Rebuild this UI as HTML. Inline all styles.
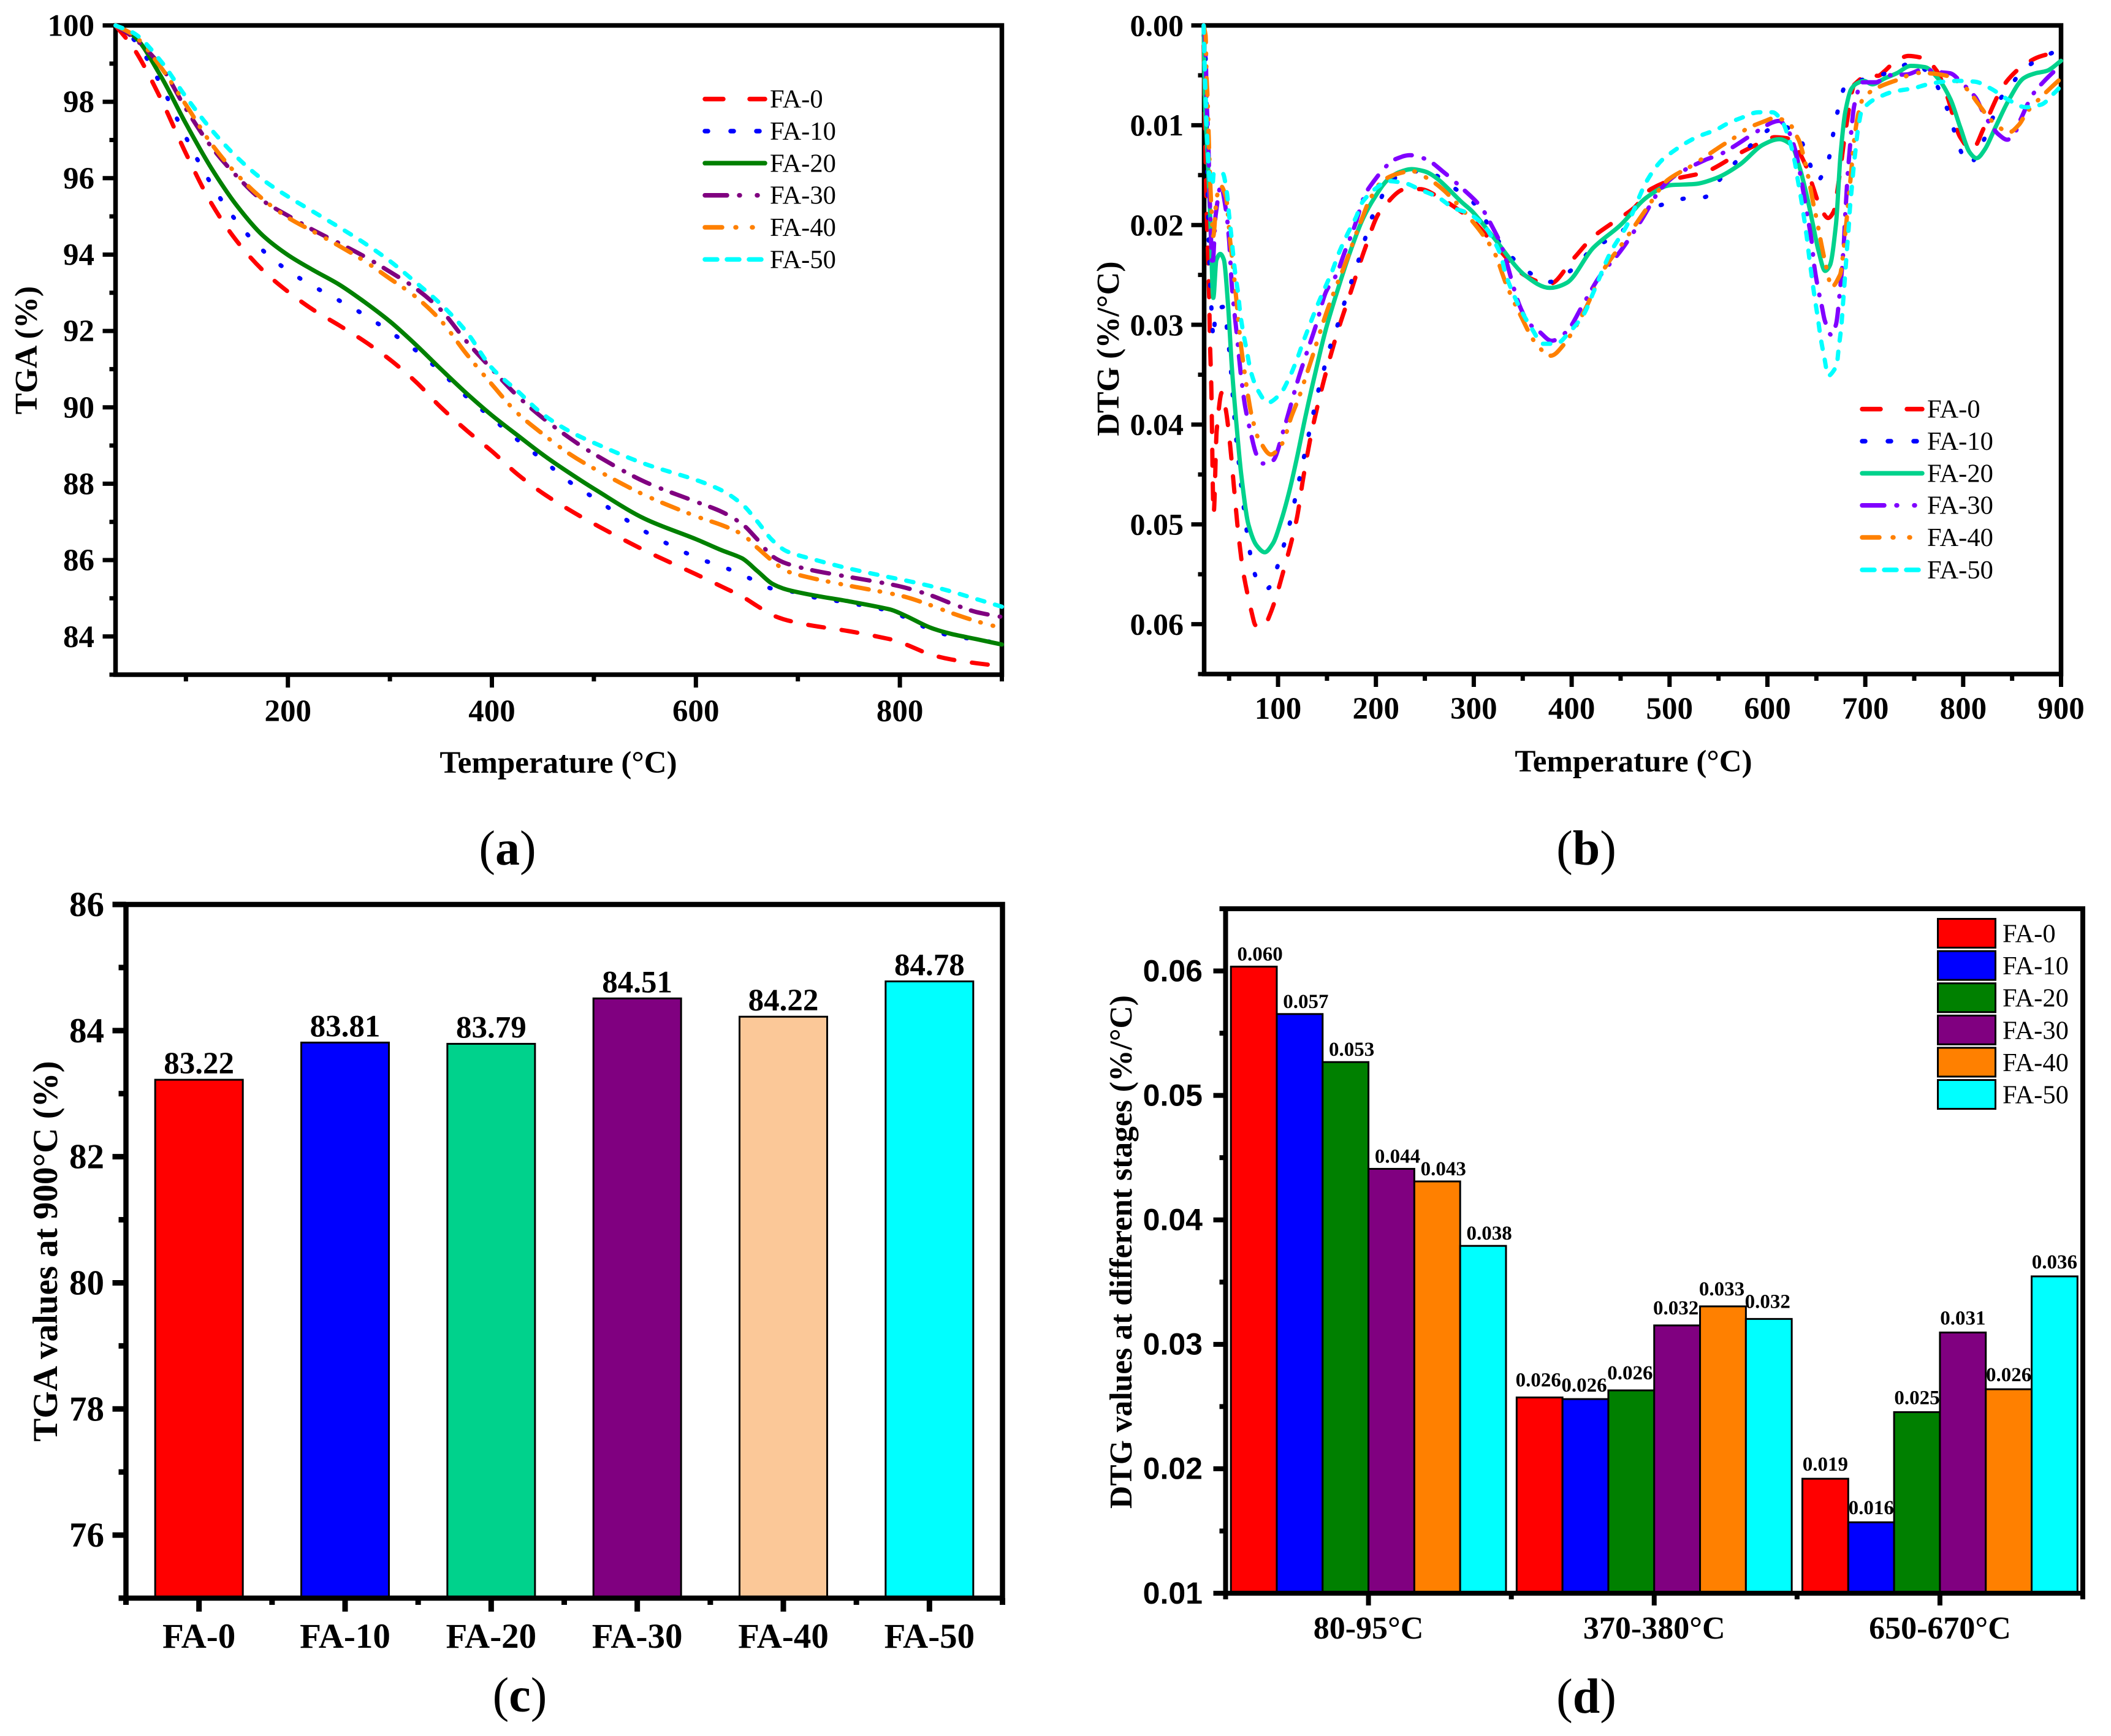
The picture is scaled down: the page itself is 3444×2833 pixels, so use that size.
<!DOCTYPE html>
<html lang="en">
<head>
<meta charset="utf-8">
<title>TGA and DTG results for FA series</title>
<style>
html,body{margin:0;padding:0;background:#fff;}
svg{display:block;}
text{font-family:"Liberation Serif","Noto Serif CJK SC",serif;fill:#000;}
</style>
</head>
<body>
<svg id="fig" xmlns="http://www.w3.org/2000/svg" width="3444" height="2833" viewBox="0 0 3444 2833"></svg>
<script>
// ---------- shared series labels ----------
const seriesNames = ['FA-0','FA-10','FA-20','FA-30','FA-40','FA-50'];

// ---------- panel (a) TGA: temperature (°C) and mass (%) ----------
const tgaTemps = [31,50,75,100,125,150,175,200,225,250,275,300,325,350,375,400,425,450,475,500,550,600,625,645,660,675,690,715,750,790,805,830,850,875,900];
const tgaFa0 = [100,99.35,98.1,96.65,95.34,94.35,93.6,93.03,92.55,92.15,91.73,91.25,90.68,90.0,89.4,88.85,88.25,87.75,87.33,86.95,86.25,85.63,85.31,85.05,84.8,84.56,84.42,84.28,84.14,83.93,83.8,83.53,83.4,83.3,83.22];
const tgaFa10 = [100,99.6,98.47,97.07,95.84,94.86,94.12,93.58,93.17,92.8,92.42,91.98,91.5,90.93,90.28,89.72,89.15,88.62,88.07,87.63,86.75,86.07,85.84,85.62,85.43,85.25,85.2,85.03,84.88,84.67,84.5,84.18,84.02,83.92,83.81];
const tgaFa20 = [100,99.7,98.69,97.43,96.26,95.28,94.51,93.99,93.59,93.22,92.76,92.25,91.65,91.0,90.37,89.79,89.27,88.76,88.3,87.87,87.08,86.55,86.26,86.05,85.72,85.38,85.22,85.08,84.92,84.71,84.55,84.23,84.07,83.93,83.79];
const tgaFa30 = [100,99.65,98.95,97.82,96.82,96.05,95.42,95.02,94.64,94.3,93.95,93.55,93.12,92.55,91.73,91.0,90.3,89.72,89.22,88.78,88.05,87.53,87.27,86.95,86.55,86.1,85.9,85.73,85.56,85.37,85.28,85.08,84.87,84.64,84.51];
const tgaFa40 = [100,99.72,98.92,97.92,96.9,96.1,95.46,94.97,94.6,94.23,93.83,93.37,92.9,92.27,91.4,90.6,89.85,89.3,88.8,88.4,87.7,87.15,86.92,86.68,86.33,85.98,85.7,85.52,85.33,85.13,85.04,84.82,84.62,84.4,84.22];
const tgaFa50 = [100,99.78,99.08,98.13,97.27,96.55,95.97,95.52,95.12,94.72,94.3,93.83,93.28,92.7,91.98,91.03,90.43,89.82,89.39,89.07,88.52,88.1,87.83,87.47,87.02,86.52,86.22,86.02,85.78,85.55,85.47,85.32,85.18,84.98,84.78];
const tgaXMajor = [200,400,600,800];
const tgaXMinor = [100,300,500,700,900];
const tgaYMajor = [84,86,88,90,92,94,96,98,100];
const tgaYMinor = [83,85,87,89,91,93,95,97,99];

// ---------- panel (b) DTG: [temperature °C, rate in 0.001 %/°C] ----------
const dtgFa0 = [[24,2],[26,13.3],[27,18.5],[28.4,22.8],[29.7,27.6],[30.5,31.9],[31.8,36.2],[34.2,48.9],[37.4,40.5],[42.6,36.8],[46.8,38.6],[51,42],[55,46.3],[59.3,50.8],[65,55.1],[74,59.2],[77,60.1],[84,60.3],[92.7,58.8],[108,53.8],[119,49.5],[126,45.2],[134.5,40.7],[146.5,35.7],[160.5,30.8],[175,26.5],[188.7,22.4],[204,18.7],[230.5,16.4],[245,16.4],[264,17.2],[297,19.4],[319,21.7],[353,25.1],[377.5,25.9],[401.5,23.4],[422,21.2],[443,19.7],[463.5,18.3],[481,16.4],[505,15.4],[536,14.7],[571.7,12.8],[594.4,11.7],[607.6,11.2],[619.6,11.3],[628,12],[640,14.2],[646,16],[654,18.2],[662,19.3],[667.5,18.7],[672.3,16],[680.7,10],[689,5.9],[703.5,5],[713,5.05],[720,4.55],[727.4,3.9],[744,3.05],[760,3.3],[773,4.55],[784,7.2],[797,11.2],[809,12.45],[821,10.3],[829,8.4],[838,6.56],[847,5.3],[859,4.2],[876,3.2],[893,2.7],[900,2.4]];
const dtgFa10 = [[24,1],[25.9,3],[28,15.9],[29,21.1],[31,26.5],[34.3,31.4],[36,28.4],[45.3,28.2],[48.2,30.8],[51,33.4],[53,36.1],[55,38.7],[57.2,41.3],[60,43.9],[62.8,46.5],[66,49.1],[69.7,51.8],[74.5,54.4],[82.3,56.3],[89.6,56.4],[97.3,54.8],[105.6,52.2],[112.5,49.7],[118.4,47],[123.6,44.6],[129.2,42],[134.9,39.4],[140.7,36.8],[146,34.8],[153.2,32.2],[161.6,29.8],[170,27.1],[178,24.8],[186.6,22.2],[194,19.7],[204,17.6],[213.8,15.7],[234.6,14.6],[260,15],[280,16.3],[300,17.8],[326,21.7],[353,24.5],[377.5,25.7],[401.5,24.4],[422,22.3],[443,21.2],[463.5,19.7],[484,18.3],[494.5,17.9],[518.6,17.3],[536,17.2],[550,15.6],[567,13.75],[583,12],[600.4,10.5],[612.4,9.95],[631.6,11.1],[642.4,13.6],[650.7,15.6],[662,13.6],[667,11],[672.3,8.4],[680,6],[698.7,5.4],[717.8,4.9],[730,4.4],[749.7,3.73],[768,5.2],[778,7],[787.8,9.5],[795,12],[806,13.9],[820,11.7],[830.5,9.2],[838.4,7.3],[846.5,6.4],[860.4,4.5],[879,3.3],[899,2.4]];
const dtgFa20 = [[24,0],[25.5,8.2],[28.4,13.8],[31.1,20.2],[33.8,27.3],[37,23.5],[41,22.9],[44.7,23.5],[48.9,28],[53,34.5],[57.2,39.6],[62.4,45],[69.7,50],[78,52.1],[86.4,52.8],[94.8,51.9],[103,49.7],[111.5,46.7],[119.8,43.1],[128,39.2],[136.5,35.5],[149,30.4],[161.6,26.3],[174,22.6],[186.6,19.4],[199,17.2],[211.7,15.5],[224,14.7],[236.7,14.4],[249,14.6],[262,15.3],[287,17.65],[299,18.7],[319,21.1],[353,25.1],[377.5,26.3],[395,25.8],[422,22.3],[450,20],[477,17.2],[501,16],[525,15.9],[547.7,15.3],[571.7,13.95],[595.6,11.95],[612.4,11.4],[624.4,11.95],[632.8,14.2],[640,16.96],[646,19.7],[652,22.5],[659,24.6],[664,24],[670,20],[674.7,13],[679.5,8.7],[685.5,6.4],[691.5,5.8],[698.7,5.56],[707,5.9],[720,5.3],[732,4.8],[746.6,4.05],[761,4.18],[775,5.4],[787,7.4],[797,10.2],[806.5,12.7],[813.7,13.3],[822,12.45],[833,10.2],[847,7.4],[861.6,5.3],[873.6,4.8],[885.6,4.55],[900,3.55]];
const dtgFa30 = [[24,0],[26,2.1],[27,7.3],[29,12.5],[30,16.8],[33,24.1],[36.3,19],[41.6,16.1],[46.8,18.5],[50,21.5],[53,26.3],[58.3,31.4],[62.4,35.3],[66.6,38.3],[71.8,40.7],[78,43],[84.4,43.9],[94.8,43.6],[105.2,40.7],[119.8,35.7],[128,33.2],[138.6,30.1],[149,26.7],[159.5,25],[167.8,22.8],[178.3,20.1],[188.7,17],[198,15.6],[209.6,14.2],[220,13.4],[234.6,13],[251,13.4],[268,14.6],[289,16.4],[306.6,18.1],[319,20.2],[328.6,22.2],[346.5,28],[357,29.9],[367,30.7],[379.5,31.6],[394.7,30.7],[412,27.9],[429,25.1],[450,22.6],[470,19.7],[491,16.4],[508,14.9],[536,13.5],[551,12.95],[564.5,12.2],[585,10.9],[604,9.77],[612,9.57],[622,10.7],[629,12.7],[635,15.7],[640,18.6],[645,21.5],[648,24.2],[652,26.5],[655.5,28.1],[658.7,29.6],[665,31],[670,30],[674.7,26],[678,22],[679.5,19],[683,13.7],[689,7.9],[697,5.7],[710.7,5.7],[724,5],[743,4.9],[758.6,4.43],[777.7,4.7],[787,4.8],[798,5.7],[812.5,7.2],[819.7,8.57],[827,9.8],[836.5,10.95],[845,11.45],[852,10.95],[858,9.57],[871,6.94],[883,5.56],[895,4.43],[900,4.05]];
const dtgFa40 = [[24,0],[26,1],[27,5.2],[28,7.3],[30,13.8],[32,18.5],[33.8,21.1],[37.4,17.2],[41.6,16.1],[46.8,17.2],[51,21.5],[54,24.1],[58.3,28.4],[62.4,32.3],[66.6,35.3],[70,37.5],[73.3,39.2],[80,41.4],[92.7,43],[104.2,41.9],[113.6,39.2],[121.3,37.3],[126.7,35.7],[134.4,33.4],[147,29.5],[155.7,27.1],[171,23.3],[179.3,21],[186,19.3],[194,17.4],[206.5,15.6],[221,14.9],[236.7,14.6],[255.5,15.5],[268,16.4],[283.7,17.95],[295,19.2],[308.7,20.9],[321.2,22.8],[333,25.9],[346.5,28.8],[363.7,31.9],[378.8,33.1],[391,32.1],[412,28.8],[432.5,24.5],[453,21.7],[477,18.3],[498,15.5],[522,14.1],[552.5,12.1],[567,11.2],[580,10.3],[598,9.57],[606.4,9.3],[619.6,9.57],[631.6,11.4],[637,13.1],[642.4,15.5],[647,17.9],[650.7,19.6],[655.5,22.1],[660.8,24.5],[665.6,26.2],[674.2,25],[678.3,22],[684.8,15.5],[689,11.2],[693,8.8],[698.7,7.1],[715.5,6.1],[734.6,5.4],[752.6,4.76],[766,4.8],[783.7,5.06],[804,6.4],[815,7.8],[829.3,9.57],[847.3,10.7],[857,9.95],[865,8.7],[877,7.44],[890,6.2],[900,5.3]];
const dtgFa50 = [[24,0],[25,4],[28,12],[31,16],[33,16],[34.3,14.8],[43.6,14.85],[47.8,16.8],[50,19],[52,20.8],[56.2,24.8],[59.3,26.9],[61.4,28.9],[64.5,30.8],[68.3,32.7],[72.2,34.7],[79,36.5],[89.6,37.8],[101.7,37],[111,35.4],[119.2,33.5],[125,31.9],[132.4,30],[140,28.1],[147,26.5],[155,24.7],[162.6,22.7],[171,20.9],[179.3,19.3],[186.6,17.65],[199,16.4],[212.7,15.6],[229.4,15.8],[244,16.4],[263,17.2],[279.5,18.3],[294,18.8],[310,20],[320,21.5],[327.5,23],[333,25.1],[346.5,28.2],[360,30.5],[370.6,31.9],[384,31.9],[398,30.7],[412,29],[422,26.8],[439.4,22.8],[456.6,20],[477.3,15.5],[494.5,13.3],[525.5,11.3],[547.7,10.45],[558.5,9.87],[574,9.24],[590.8,8.7],[605.2,8.7],[614.8,9.57],[622.7,11.57],[627.5,13.45],[631,15.46],[634.5,17.4],[637.6,19.4],[640.4,21.35],[642.8,23.3],[645.5,25.3],[648.3,27.3],[651.5,29.3],[654.3,31.25],[658,33.2],[662.2,35.1],[670.4,34.2],[673,32.2],[675.4,30.25],[677,28.2],[678.5,26.2],[680,24.2],[681.4,22.3],[683,20.3],[684.3,18.3],[686.2,16.3],[688,14.3],[690.3,12.25],[692.7,10.3],[696.8,8.44],[708.7,7.44],[728.6,6.64],[748.5,6.31],[764,5.9],[779.4,5.64],[795.2,5.56],[812,5.64],[828,6.31],[846,7.44],[864,8.2],[879.6,7.94],[892.8,6.8],[900,6.06]];
const dtgXMajor = [100,200,300,400,500,600,700,800,900];
const dtgXMinor = [50,150,250,350,450,550,650,750,850];
const dtgYMajor = [0,10,20,30,40,50,60];
const dtgYMinor = [5,15,25,35,45,55,65];
const dtgYLabels = ['0.00','0.01','0.02','0.03','0.04','0.05','0.06'];

// ---------- panel (c) TGA at 900°C ----------
const barValues = [83.22,83.81,83.79,84.51,84.22,84.78];
const barLabels = ['83.22','83.81','83.79','84.51','84.22','84.78'];
const barYMajor = [76,78,80,82,84,86];
const barYMinor = [75,77,79,81,83,85];

// ---------- panel (d) DTG at stages ----------
const stageNames = ['80-95°C','370-380°C','650-670°C'];
const stageFa0 = [0.06035,0.02573,0.0192];
const stageFa10 = [0.05654,0.0256,0.0157];
const stageFa20 = [0.05268,0.0263,0.02455];
const stageFa30 = [0.0441,0.03152,0.03095];
const stageFa40 = [0.04309,0.03305,0.02639];
const stageFa50 = [0.03791,0.03204,0.03546];
const stageFa0Text = ['0.060','0.026','0.019'];
const stageFa10Text = ['0.057','0.026','0.016'];
const stageFa20Text = ['0.053','0.026','0.025'];
const stageFa30Text = ['0.044','0.032','0.031'];
const stageFa40Text = ['0.043','0.033','0.026'];
const stageFa50Text = ['0.038','0.032','0.036'];
const stageYMajor = [0.01,0.02,0.03,0.04,0.05,0.06];
const stageYMinor = [0.015,0.025,0.035,0.045,0.055,0.065];

// ---------- drawing helpers ----------
const NS = 'http://www.w3.org/2000/svg';
const root = document.getElementById('fig');
function el(tag, attrs, parent, text) {
  const e = document.createElementNS(NS, tag);
  for (const k in attrs) e.setAttribute(k, attrs[k]);
  if (text !== undefined) e.textContent = text;
  (parent || root).appendChild(e);
  return e;
}
function linear(d0, d1, r0, r1) {
  return v => r0 + (v - d0) * (r1 - r0) / (d1 - d0);
}
// monotone cubic path through data-mapped points
function curvePath(pts) {
  const n = pts.length, dx = [], m = [], t = [];
  for (let i = 0; i < n - 1; i++) {
    dx[i] = pts[i + 1][0] - pts[i][0];
    m[i] = (pts[i + 1][1] - pts[i][1]) / dx[i];
  }
  t[0] = m[0];
  t[n - 1] = m[n - 2];
  for (let i = 1; i < n - 1; i++) {
    if (m[i - 1] * m[i] <= 0) t[i] = 0;
    else {
      const a = dx[i - 1] / (dx[i - 1] + dx[i]);
      t[i] = (m[i - 1] * m[i]) / (a * m[i] + (1 - a) * m[i - 1]);
    }
  }
  let d = 'M' + pts[0][0].toFixed(1) + ' ' + pts[0][1].toFixed(1);
  for (let i = 0; i < n - 1; i++) {
    const h = dx[i] / 3;
    d += 'C' + (pts[i][0] + h).toFixed(1) + ' ' + (pts[i][1] + t[i] * h).toFixed(1) + ' ' +
      (pts[i + 1][0] - h).toFixed(1) + ' ' + (pts[i + 1][1] - t[i + 1] * h).toFixed(1) + ' ' +
      pts[i + 1][0].toFixed(1) + ' ' + pts[i + 1][1].toFixed(1);
  }
  return d;
}
let frameW = 7.5, tickW = 7;
function drawFrame(g, box) {
  const frame = el('rect', {x: box.x0, y: box.y0, width: box.x1 - box.x0, height: box.y1 - box.y0, fill: 'none', stroke: '#000', 'stroke-width': frameW}, g);
  
  
}
function xTick(g, x, y, len) {
  const t = el('line', {x1: x, x2: x, y1: y, y2: y + len, stroke: '#000', 'stroke-width': tickW}, g);
  
  
}
function yTick(g, x, y, len) {
  const t = el('line', {x1: x, x2: x - len, y1: y, y2: y, stroke: '#000', 'stroke-width': tickW}, g);
  
  
}
function xLabel(g, x, y, s, size) {
  const t = el('text', {x: x, y: y, 'text-anchor': 'middle', 'font-size': size, 'font-weight': 'bold'}, g, s);
  
  
}
function yLabel(g, x, y, s, size, family) {
  const a = {x: x, y: y + size * 0.335, 'text-anchor': 'end', 'font-size': size, 'font-weight': 'bold'};
  if (family) a.style = 'font-family:' + family;
  const t = el('text', a, g, s);
  
  
}
function rotatedTitle(g, x, y, s, size) {
  const t = el('text', {x: 0, y: 0, transform: 'translate(' + x + ' ' + y + ') rotate(-90)', 'text-anchor': 'middle', 'font-size': size, 'font-weight': 'bold'}, g, s);
  
  
}
function xTitle(g, x, y, s, size) {
  const t = el('text', {x: x, y: y, 'text-anchor': 'middle', 'font-size': size, 'font-weight': 'bold'}, g, s);
  
  
}
function panelLabel(x, y, letter) {
  const t = el('text', {x: x, y: y, 'text-anchor': 'middle', 'font-size': 80});
  
  
  el('tspan', {}, t, '(');
  el('tspan', {'font-weight': 'bold'}, t, letter);
  el('tspan', {}, t, ')');
}
const LW = 7;
const lineDash = ['26 29', '2 35', 'none', '28 20 1 18', '28 18 1 20 1 18', '12 18'];
const legendDash = ['30 43 26', '5 37', 'none', '36 20 1 28 1', '28 22 1 26 1', '20 16'];
function drawCurve(g, pts, name, color, i) {
  const p = el('path', {d: curvePath(pts), fill: 'none', stroke: color, 'stroke-width': LW, 'stroke-linecap': 'round', 'stroke-linejoin': 'round', 'stroke-dasharray': lineDash[i]}, g);
  
  
}
function drawLineLegend(g, x0, x1, tx, rowY, colors) {
  seriesNames.forEach((name, i) => {
    const y = rowY[i];
    const l = el('line', {x1: x0, x2: x1, y1: y, y2: y, stroke: colors[i], 'stroke-width': LW + 0.5, 'stroke-linecap': 'round', 'stroke-dasharray': legendDash[i]}, g);
    
    
    const t = el('text', {x: tx, y: y + 14, 'font-size': 42.5}, g, name);
    
    
  });
}

// ---------- panel (a) ----------
(function () {
  const g = el('g', {});
  
  
  const box = {x0: 188.5, x1: 1634.5, y0: 41.5, y1: 1101};
  const X = linear(31, 900, box.x0, box.x1);
  const Y = linear(83, 100, box.y1, box.y0);
  frameW = 7.5; tickW = 7;
  drawFrame(g, box);
  tgaXMajor.forEach(v => { xTick(g, X(v), box.y1, 21); xLabel(g, X(v), 1177, String(v), 51); });
  tgaXMinor.forEach(v => xTick(g, X(v), box.y1, 11));
  tgaYMajor.forEach(v => { yTick(g, box.x0, Y(v), 21); yLabel(g, 154, Y(v), String(v), 51); });
  tgaYMinor.forEach(v => yTick(g, box.x0, Y(v), 10));
  const colors = ['#ff0000', '#0000ff', '#008000', '#800080', '#ff8000', '#00ffff'];
  [tgaFa0, tgaFa10, tgaFa20, tgaFa30, tgaFa40, tgaFa50].forEach((vals, i) => {
    drawCurve(g, vals.map((v, k) => [X(tgaTemps[k]), Y(v)]), seriesNames[i], colors[i], i);
  });
  drawLineLegend(g, 1150, 1248, 1256, [161.6, 214, 266.3, 318.7, 371, 423.4], colors);
  rotatedTitle(g, 60, 571.5, 'TGA (%)', 52);
  xTitle(g, 911, 1261, 'Temperature (°C)', 51);
  panelLabel(828, 1411, 'a');
})();

// ---------- panel (b) ----------
(function () {
  const g = el('g', {});
  
  
  const box = {x0: 1964.5, x1: 3362.5, y0: 41.5, y1: 1100};
  const X = linear(24.5, 900, box.x0, box.x1);
  const Y = linear(0, 65, box.y0, box.y1);
  frameW = 7.5; tickW = 7;
  drawFrame(g, box);
  dtgXMajor.forEach(v => { xTick(g, X(v), box.y1, 21); xLabel(g, X(v), 1173, String(v), 51); });
  dtgXMinor.forEach(v => xTick(g, X(v), box.y1, 11));
  dtgYMajor.forEach((v, i) => { yTick(g, box.x0, Y(v), 21); yLabel(g, 1931, Y(v), dtgYLabels[i], 50); });
  dtgYMinor.forEach(v => yTick(g, box.x0, Y(v), 10));
  const colors = ['#ff0000', '#0000ff', '#00d28c', '#8000ff', '#ff8000', '#00ffff'];
  [dtgFa0, dtgFa10, dtgFa20, dtgFa30, dtgFa40, dtgFa50].forEach((vals, i) => {
    drawCurve(g, vals.map(p => [X(p[0]), Y(p[1])]), seriesNames[i], colors[i], i);
  });
  drawLineLegend(g, 3038, 3136, 3144, [667.6, 720, 772.4, 824.7, 877, 930], colors);
  rotatedTitle(g, 1825, 569, 'DTG (%/°C)', 52);
  xTitle(g, 2665, 1259, 'Temperature (°C)', 51);
  panelLabel(2588, 1411, 'b');
})();

// ---------- panel (c) ----------
(function () {
  const g = el('g', {});
  
  
  const box = {x0: 205.5, x1: 1635.5, y0: 1476, y1: 2608};
  const X = linear(0.5, 6.5, box.x0, box.x1);
  const Y = linear(75, 86, box.y1, box.y0);
  const colors = ['#ff0000', '#0000ff', '#00d28c', '#800080', '#fbc898', '#00ffff'];
  const bw = 143;
  frameW = 8.5; tickW = 9;
  barValues.forEach((v, i) => {
    const cx = X(i + 1);
    const r = el('rect', {x: cx - bw / 2, y: Y(v), width: bw, height: box.y1 - Y(v), fill: colors[i], stroke: '#000', 'stroke-width': 3}, g);
    
    
    const t = el('text', {x: cx, y: Y(v) - 10, 'text-anchor': 'middle', 'font-size': 51, 'font-weight': 'bold'}, g, barLabels[i]);
    
    
    xTick(g, cx, box.y1, 22);
    xLabel(g, cx, 2689, seriesNames[i], 57);
  });
  [0.5, 1.5, 2.5, 3.5, 4.5, 5.5, 6.5].forEach(v => xTick(g, X(v), box.y1, 11));
  drawFrame(g, box);
  barYMajor.forEach(v => { yTick(g, box.x0, Y(v), 22); yLabel(g, 170, Y(v), String(v), 57); });
  barYMinor.forEach(v => yTick(g, box.x0, Y(v), 12));
  rotatedTitle(g, 93, 2042, 'TGA values at 900°C (%)', 57);
  panelLabel(848, 2793, 'c');
})();

// ---------- panel (d) ----------
(function () {
  const g = el('g', {});
  
  
  const box = {x0: 1999.5, x1: 3398, y0: 1483, y1: 2600};
  const X = linear(0.5, 3.5, box.x0, box.x1);
  const Y = linear(0.01, 0.065, box.y1, box.y0);
  const colors = ['#ff0000', '#0000ff', '#008000', '#800080', '#ff8000', '#00ffff'];
  const bw = 74.8;
  const all = [stageFa0, stageFa10, stageFa20, stageFa30, stageFa40, stageFa50];
  const allText = [stageFa0Text, stageFa10Text, stageFa20Text, stageFa30Text, stageFa40Text, stageFa50Text];
  const shiftByStage = [10, -2, 0];
  const liftByStage = [10, 18, 13];
  frameW = 8; tickW = 8;
  stageNames.forEach((stage, s) => {
    const cx = X(s + 1);
    all.forEach((vals, i) => {
      const v = vals[s];
      const left = cx + (i - 3) * bw;
      const r = el('rect', {x: left, y: Y(v), width: bw, height: box.y1 - Y(v), fill: colors[i], stroke: '#000', 'stroke-width': 3}, g);
      
      
      const lift = (s === 1 && i === 1) ? 12 : liftByStage[s];
      const t = el('text', {x: left + bw / 2 + shiftByStage[s], y: Y(v) - lift, 'text-anchor': 'middle', 'font-size': 33, 'font-weight': 'bold'}, g, allText[i][s]);
      
      
    });
    xTick(g, cx, box.y1, 20);
    xLabel(g, cx, 2674, stage, 52);
  });
  [0.5, 1.5, 2.5, 3.5].forEach(v => xTick(g, X(v), box.y1, 10));
  drawFrame(g, box);
  stageYMajor.forEach(v => { yTick(g, box.x0, Y(v), 20); yLabel(g, 1962, Y(v), v.toFixed(2), 50, '"Liberation Sans",sans-serif'); });
  stageYMinor.forEach(v => yTick(g, box.x0, Y(v), 10));
  seriesNames.forEach((name, i) => {
    const y = 1499.5 + i * 52.6;
    const r = el('rect', {x: 3161.5, y: y, width: 94, height: 47, fill: colors[i], stroke: '#000', 'stroke-width': 3}, g);
    
    
    const t = el('text', {x: 3267, y: y + 38, 'font-size': 42.5}, g, name);
    
    
  });
  rotatedTitle(g, 1846, 2043, 'DTG values at different stages (%/°C)', 51.6);
  panelLabel(2588, 2795, 'd');
})();
</script>
</body>
</html>
